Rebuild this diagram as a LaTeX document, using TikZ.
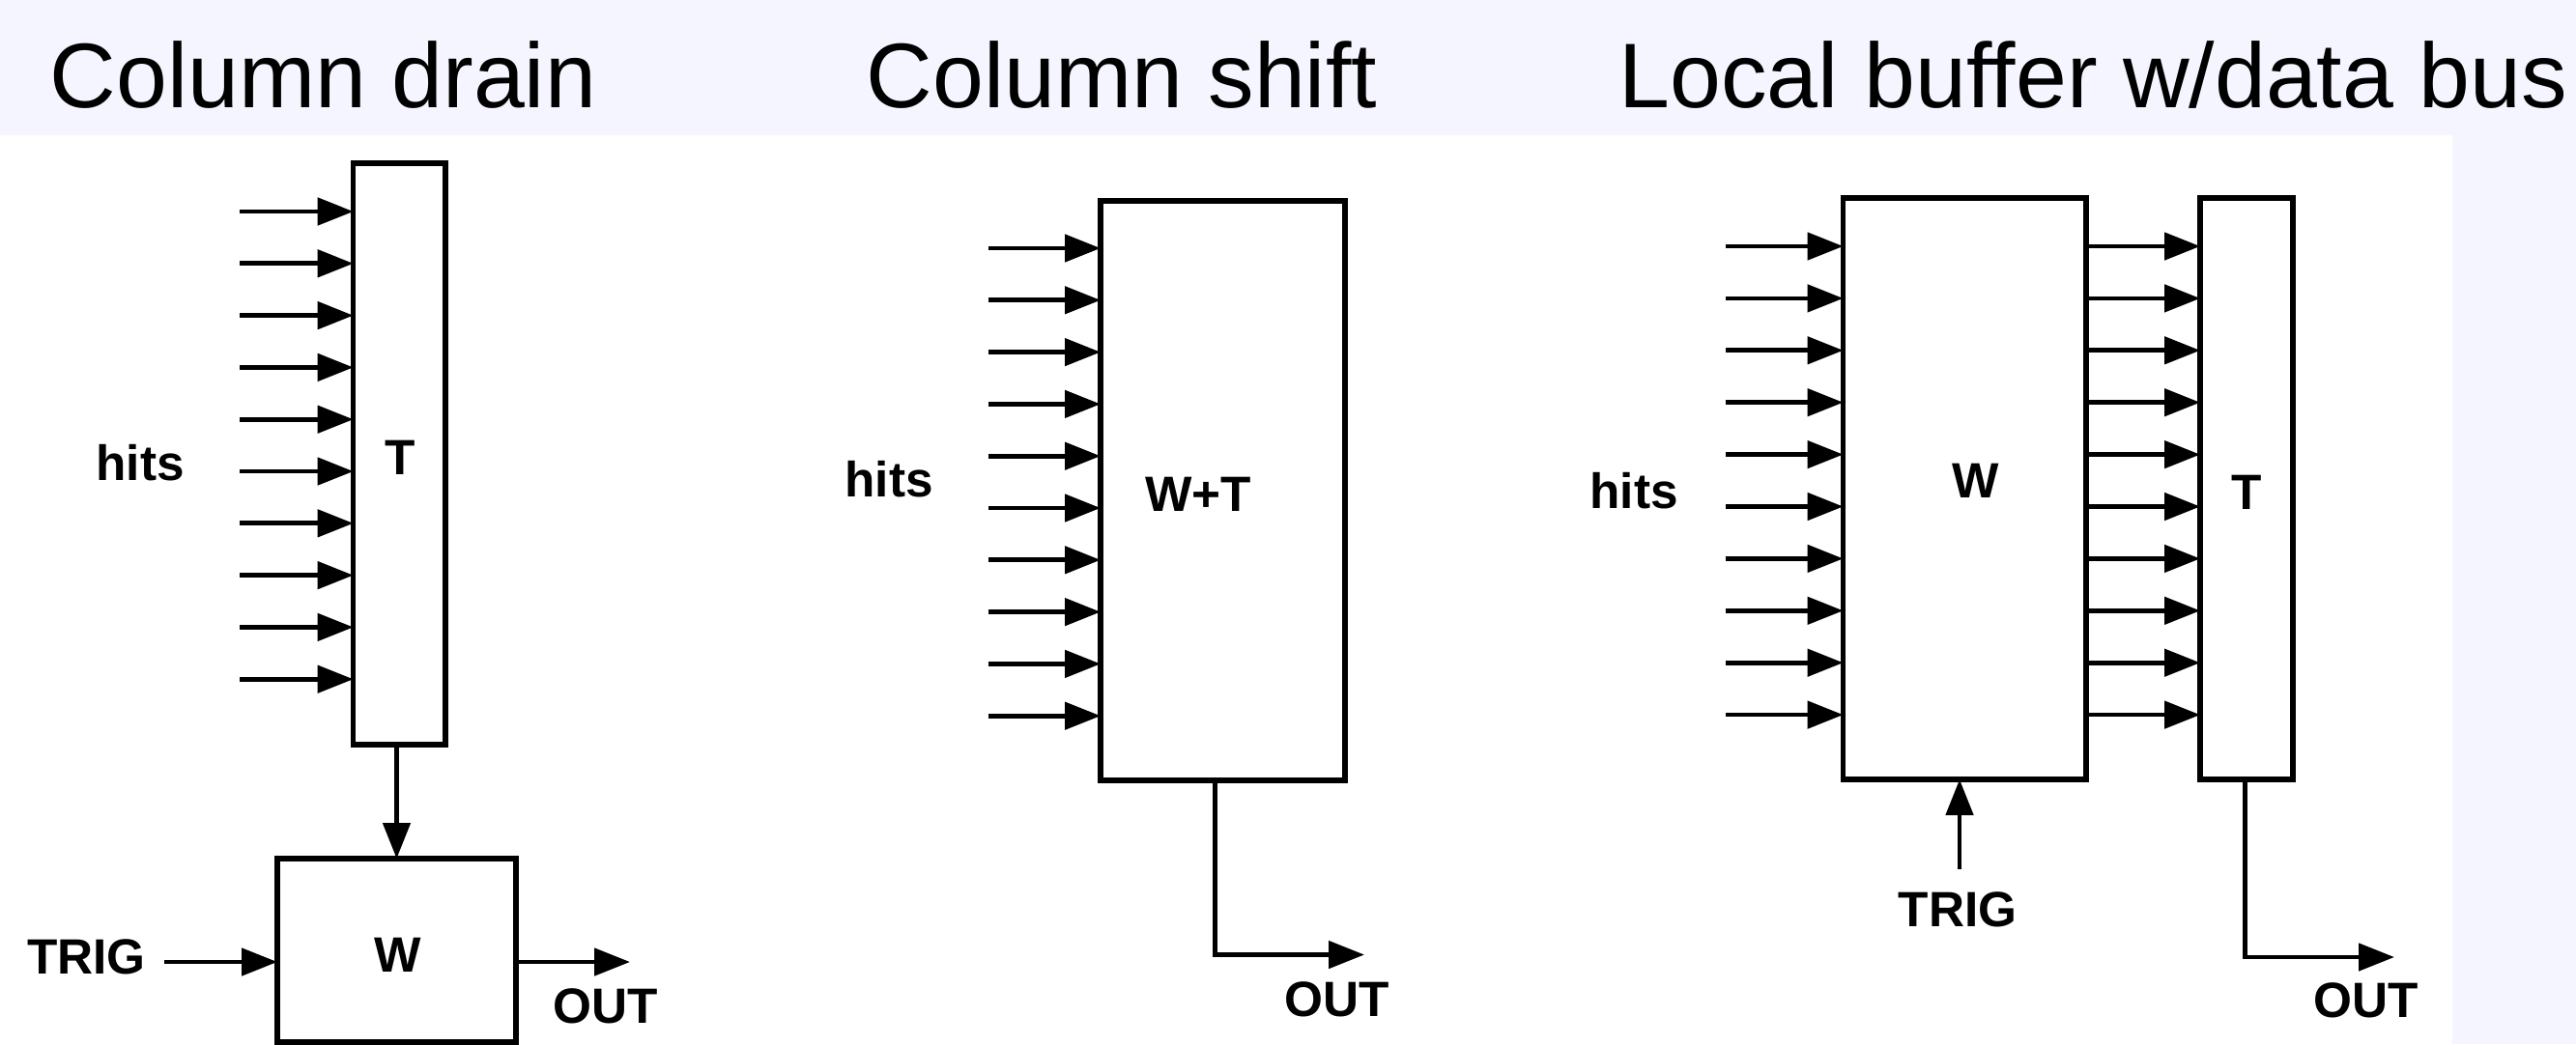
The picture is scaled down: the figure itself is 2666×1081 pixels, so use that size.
\documentclass[tikz,border=0pt]{standalone}
\usepackage{fontspec}
\setmainfont{Liberation Sans}
\usetikzlibrary{arrows.meta}
\definecolor{lav}{RGB}{245,245,255}
\begin{document}
\begin{tikzpicture}[x=0.1mm,y=-0.1mm,
  box/.style={draw, line width=1.45pt, rectangle, inner sep=0pt, outer sep=0pt},
  arr/.style={line width=1.35pt, -{Triangle[length=3.7mm,width=2.8mm]}},
  ttl/.style={font=\fontsize{27.05}{31}\selectfont, inner sep=0pt, anchor=base west},
  lbl/.style={font=\bfseries\fontsize{14.6}{16}\selectfont, inner sep=0pt}]
\useasboundingbox (0,0) rectangle (2666,1081);
\fill[lav] (0,0) rectangle (2666,1081);
\fill[white] (0,140) rectangle (2538,1081);

% titles
\node[ttl] (t1) at (51,111) {Column drain};
\node[ttl] (t2) at (896,111) {Column shift};
\node[ttl] (t3) at (1675,111) {Local buffer w/data bus};

% ---------- panel 1: column drain ----------
\node[box, minimum width=9.53mm, minimum height=60.2mm] (T1) at (413.35,470) {};
\node[box, minimum width=24.7mm, minimum height=19.0mm] (W1) at (410.5,984) {};
\node[lbl] (T1l) at (414,474) {T};
\node[lbl] (W1l) at (412,988.5) {W};
\node[lbl] (hits1) at (145,479) {hits};
\node[lbl] (trig1) at (89.5,991) {TRIG};
\node[lbl] (out1) at (626.7,1041.5) {OUT};
\foreach \i in {0,...,9} {
  \coordinate (ax\i) at (248,{219+53.8*\i});
  \draw[arr] (ax\i) -- (ax\i -| T1.west);
}
\draw[arr] (W1.north |- T1.south) -- (W1.north);
\coordinate (tr1) at (170,996);
\draw[arr] (tr1) -- (tr1 -| W1.west);
\coordinate (o1) at (652,996);
\draw[arr] (o1 -| W1.east) -- (o1);

% ---------- panel 2: column shift ----------
\node[box, minimum width=25.3mm, minimum height=60mm] (W2) at (1265.5,508) {};
\node[lbl] (W2l) at (1240,512) {W+T};
\node[lbl] (hits2) at (920,496) {hits};
\node[lbl] (out2) at (1384,1035) {OUT};
\foreach \i in {0,...,9} {
  \coordinate (bx\i) at (1023,{257+53.8*\i});
  \draw[arr] (bx\i) -- (bx\i -| W2.west);
}
\coordinate (o2) at (1257.5,988.5);
\coordinate (o2e) at (1412,988.5);
\draw[arr] (o2 |- W2.south) -- (o2) -- (o2e);

% ---------- panel 3: local buffer w/data bus ----------
\node[box, minimum width=25.14mm, minimum height=60.2mm] (W3) at (2033.3,506) {};
\node[box, minimum width=9.6mm, minimum height=60.2mm] (T3) at (2325,506) {};
\node[lbl] (W3l) at (2045,498) {W};
\node[lbl] (T3l) at (2325,510) {T};
\node[lbl] (hits3) at (1691,508) {hits};
\node[lbl] (trig3) at (2026,942) {TRIG};
\node[lbl] (out3) at (2449,1036) {OUT};
\foreach \i in {0,...,9} {
  \coordinate (cx\i) at (1786,{255+53.9*\i});
  \draw[arr] (cx\i) -- (cx\i -| W3.west);
  \draw[arr] (cx\i -| W3.east) -- (cx\i -| T3.west);
}
\coordinate (tr3) at (2028,900);
\draw[arr] (tr3) -- (tr3 |- W3.south);
\coordinate (o3) at (2323.5,991);
\coordinate (o3e) at (2478,991);
\draw[arr] (o3 |- T3.south) -- (o3) -- (o3e);
\end{tikzpicture}
\end{document}
